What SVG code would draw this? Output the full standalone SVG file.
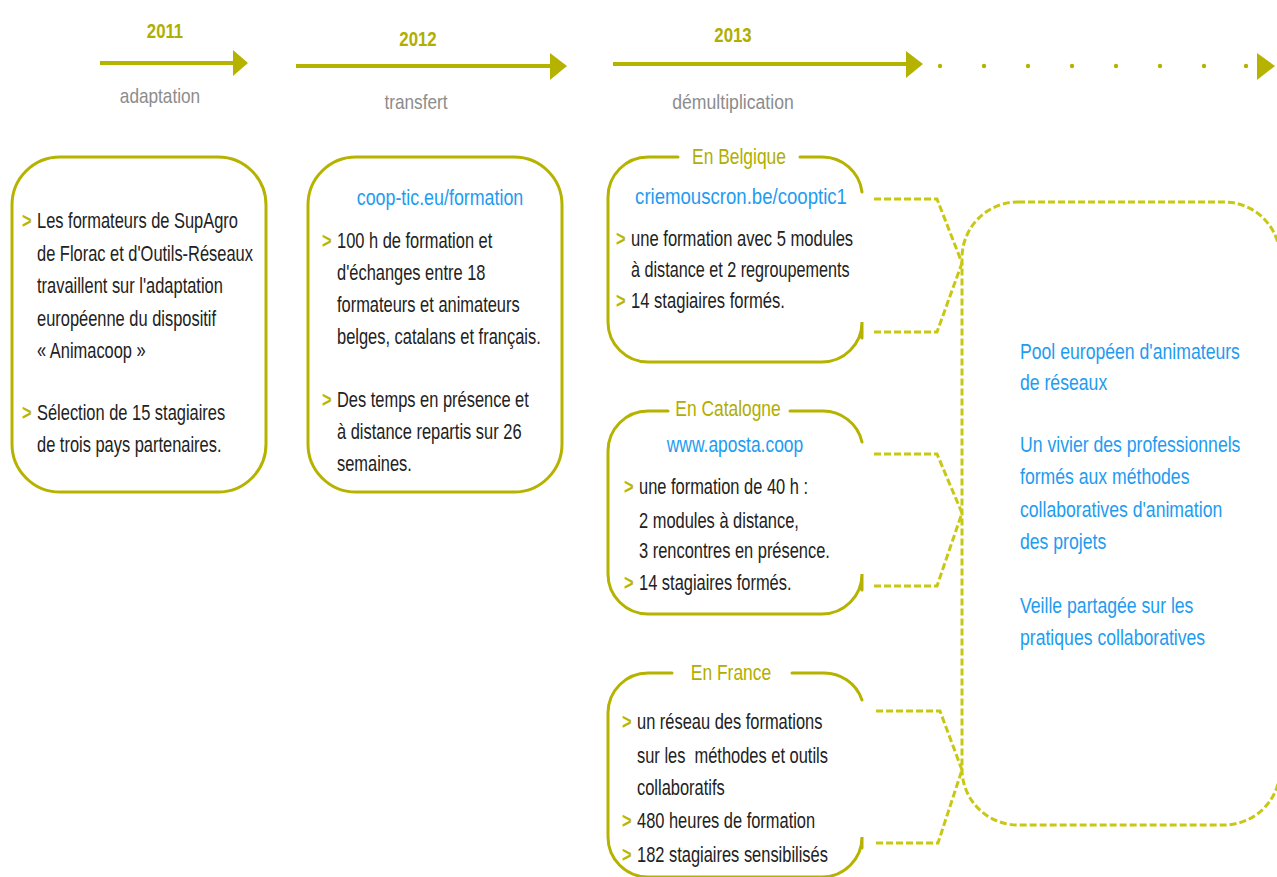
<svg xmlns="http://www.w3.org/2000/svg" width="1277" height="877" viewBox="0 0 1277 877">
<style>
text{font-family:"Liberation Sans","Arial",sans-serif;font-size:21.5px;fill:#222;}
.yr{font-weight:bold;font-size:21px;fill:#b0ae00;text-anchor:middle;}
.ph{font-size:21px;fill:#8c8c8c;text-anchor:middle;}
.bl{fill:#b8b600;font-weight:bold;}
.url{fill:#1e9cf0;text-anchor:middle;font-size:21.5px;}
.ttl{fill:#b0ae00;text-anchor:middle;font-size:21.5px;}
.res{fill:#1e9cf0;font-size:21.5px;}
.box{fill:none;stroke:#b5b300;stroke-width:3;stroke-linecap:round;}
.dash{fill:none;stroke:#c8c814;stroke-width:3;stroke-dasharray:7 3;}
.tl{stroke:#b5b300;stroke-width:4;fill:none;}
.head{fill:#b5b300;}
.dot{fill:#b5b300;}
</style>

<g id="timeline">
  <text class="yr" transform="translate(165,38) scale(0.8,1)">2011</text>
  <line class="tl" x1="100" y1="63" x2="236" y2="63"/>
  <polygon class="head" points="233,50 248,63 233,76"/>
  <text class="ph" transform="translate(160,103) scale(0.82,1)">adaptation</text>

  <text class="yr" transform="translate(418,46) scale(0.8,1)">2012</text>
  <line class="tl" x1="296" y1="66" x2="553" y2="66"/>
  <polygon class="head" points="550,53 567,66 550,80"/>
  <text class="ph" transform="translate(416,109) scale(0.82,1)">transfert</text>

  <text class="yr" transform="translate(733,42) scale(0.8,1)">2013</text>
  <line class="tl" x1="613" y1="64" x2="908" y2="64"/>
  <polygon class="head" points="906,51 923,64 906,78"/>
  <text class="ph" transform="translate(733,109) scale(0.84,1)">démultiplication</text>

  <circle class="dot" cx="940" cy="66" r="2.2"/>
  <circle class="dot" cx="984" cy="66" r="2.2"/>
  <circle class="dot" cx="1028" cy="66" r="2.2"/>
  <circle class="dot" cx="1072" cy="66" r="2.2"/>
  <circle class="dot" cx="1116" cy="66" r="2.2"/>
  <circle class="dot" cx="1160" cy="66" r="2.2"/>
  <circle class="dot" cx="1204" cy="66" r="2.2"/>
  <circle class="dot" cx="1246" cy="66" r="2.2"/>
  <polygon class="head" points="1257,53 1275,66 1257,80"/>
</g>

<g id="box-2011">
  <rect class="box" x="12" y="157" width="254" height="335" rx="48"/>
  <text class="bl" transform="translate(22,228) scale(0.765,1)">&gt;</text>
  <text transform="translate(37,228) scale(0.765,1)">Les formateurs de SupAgro</text>
  <text transform="translate(37,261) scale(0.765,1)">de Florac et d'Outils-Réseaux</text>
  <text transform="translate(37,293) scale(0.765,1)">travaillent sur l'adaptation</text>
  <text transform="translate(37,326) scale(0.765,1)">européenne du dispositif</text>
  <text transform="translate(37,358) scale(0.765,1)">« Animacoop »</text>
  <text class="bl" transform="translate(22,420) scale(0.765,1)">&gt;</text>
  <text transform="translate(37,420) scale(0.765,1)">Sélection de 15 stagiaires</text>
  <text transform="translate(37,452) scale(0.765,1)">de trois pays partenaires.</text>
</g>

<g id="box-2012">
  <rect class="box" x="308" y="157" width="254" height="335" rx="48"/>
  <text class="url" transform="translate(440,205) scale(0.83,1)">coop-tic.eu/formation</text>
  <text class="bl" transform="translate(322,248) scale(0.765,1)">&gt;</text>
  <text transform="translate(337,248) scale(0.765,1)">100 h de formation et</text>
  <text transform="translate(337,280) scale(0.765,1)">d'échanges entre 18</text>
  <text transform="translate(337,312) scale(0.765,1)">formateurs et animateurs</text>
  <text transform="translate(337,344) scale(0.765,1)">belges, catalans et français.</text>
  <text class="bl" transform="translate(322,407) scale(0.765,1)">&gt;</text>
  <text transform="translate(337,407) scale(0.765,1)">Des temps en présence et</text>
  <text transform="translate(337,439) scale(0.765,1)">à distance repartis sur 26</text>
  <text transform="translate(337,471) scale(0.765,1)">semaines.</text>
</g>

<g id="box-belgique">
  <path class="box" d="M678,157 H648 A40,40 0 0 0 608,197 V322 A40,40 0 0 0 648,362 H822 A40,40 0 0 0 862,322 V338"/>
  <path class="box" d="M800,157 H822 A40,40 0 0 1 862,192"/>
  <text class="ttl" transform="translate(739,164) scale(0.81,1)">En Belgique</text>
  <text class="url" transform="translate(741,204) scale(0.865,1)">criemouscron.be/cooptic1</text>
  <text class="bl" transform="translate(616,246) scale(0.765,1)">&gt;</text>
  <text transform="translate(631,246) scale(0.772,1)">une formation avec 5 modules</text>
  <text transform="translate(631,277) scale(0.753,1)">à distance et 2 regroupements</text>
  <text class="bl" transform="translate(616,308) scale(0.765,1)">&gt;</text>
  <text transform="translate(631,308) scale(0.772,1)">14 stagiaires formés.</text>
</g>

<g id="box-catalogne">
  <path class="box" d="M668,411 H648 A40,40 0 0 0 608,451 V574 A40,40 0 0 0 648,614 H822 A40,40 0 0 0 862,574 V590"/>
  <path class="box" d="M790,411 H822 A40,40 0 0 1 862,442"/>
  <text class="ttl" transform="translate(728,416) scale(0.81,1)">En Catalogne</text>
  <text class="url" transform="translate(735,452) scale(0.81,1)">www.aposta.coop</text>
  <text class="bl" transform="translate(624,494) scale(0.765,1)">&gt;</text>
  <text transform="translate(639,494) scale(0.765,1)">une formation de 40 h :</text>
  <text transform="translate(639,528) scale(0.765,1)">2 modules à distance,</text>
  <text transform="translate(639,558) scale(0.765,1)">3 rencontres en présence.</text>
  <text class="bl" transform="translate(624,590) scale(0.765,1)">&gt;</text>
  <text transform="translate(639,590) scale(0.765,1)">14 stagiaires formés.</text>
</g>

<g id="box-france">
  <path class="box" d="M672,673 H648 A40,40 0 0 0 608,713 V837 A40,40 0 0 0 648,877 H822 A40,40 0 0 0 862,837 V848"/>
  <path class="box" d="M792,673 H822 A40,40 0 0 1 862,700"/>
  <text class="ttl" transform="translate(731,680) scale(0.81,1)">En France</text>
  <text class="bl" transform="translate(622,729) scale(0.765,1)">&gt;</text>
  <text transform="translate(637,729) scale(0.765,1)">un réseau des formations</text>
  <text transform="translate(637,763) scale(0.765,1)" xml:space="preserve">sur les  méthodes et outils</text>
  <text transform="translate(637,795) scale(0.765,1)">collaboratifs</text>
  <text class="bl" transform="translate(622,828) scale(0.765,1)">&gt;</text>
  <text transform="translate(637,828) scale(0.765,1)">480 heures de formation</text>
  <text class="bl" transform="translate(622,862) scale(0.765,1)">&gt;</text>
  <text transform="translate(637,862) scale(0.765,1)">182 stagiaires sensibilisés</text>
</g>

<g id="result">
  <rect class="dash" x="962" y="202" width="318" height="623" rx="56"/>
  <text class="res" transform="translate(1020,359) scale(0.82,1)">Pool européen d'animateurs</text>
  <text class="res" transform="translate(1020,390) scale(0.82,1)">de réseaux</text>
  <text class="res" transform="translate(1020,452) scale(0.82,1)">Un vivier des professionnels</text>
  <text class="res" transform="translate(1020,484) scale(0.82,1)">formés aux méthodes</text>
  <text class="res" transform="translate(1020,517) scale(0.82,1)">collaboratives d'animation</text>
  <text class="res" transform="translate(1020,549) scale(0.82,1)">des projets</text>
  <text class="res" transform="translate(1020,613) scale(0.82,1)">Veille partagée sur les</text>
  <text class="res" transform="translate(1020,645) scale(0.82,1)">pratiques collaboratives</text>
</g>

<g id="connectors">
  <polyline class="dash" points="874,199 937,199 962,263"/>
  <polyline class="dash" points="874,332 937,332 962,263"/>
  <polyline class="dash" points="874,454 937,454 962,513"/>
  <polyline class="dash" points="874,586 937,586 962,513"/>
  <polyline class="dash" points="876,711 940,711 962,770"/>
  <polyline class="dash" points="876,843 938,843 962,770"/>
</g>
</svg>
